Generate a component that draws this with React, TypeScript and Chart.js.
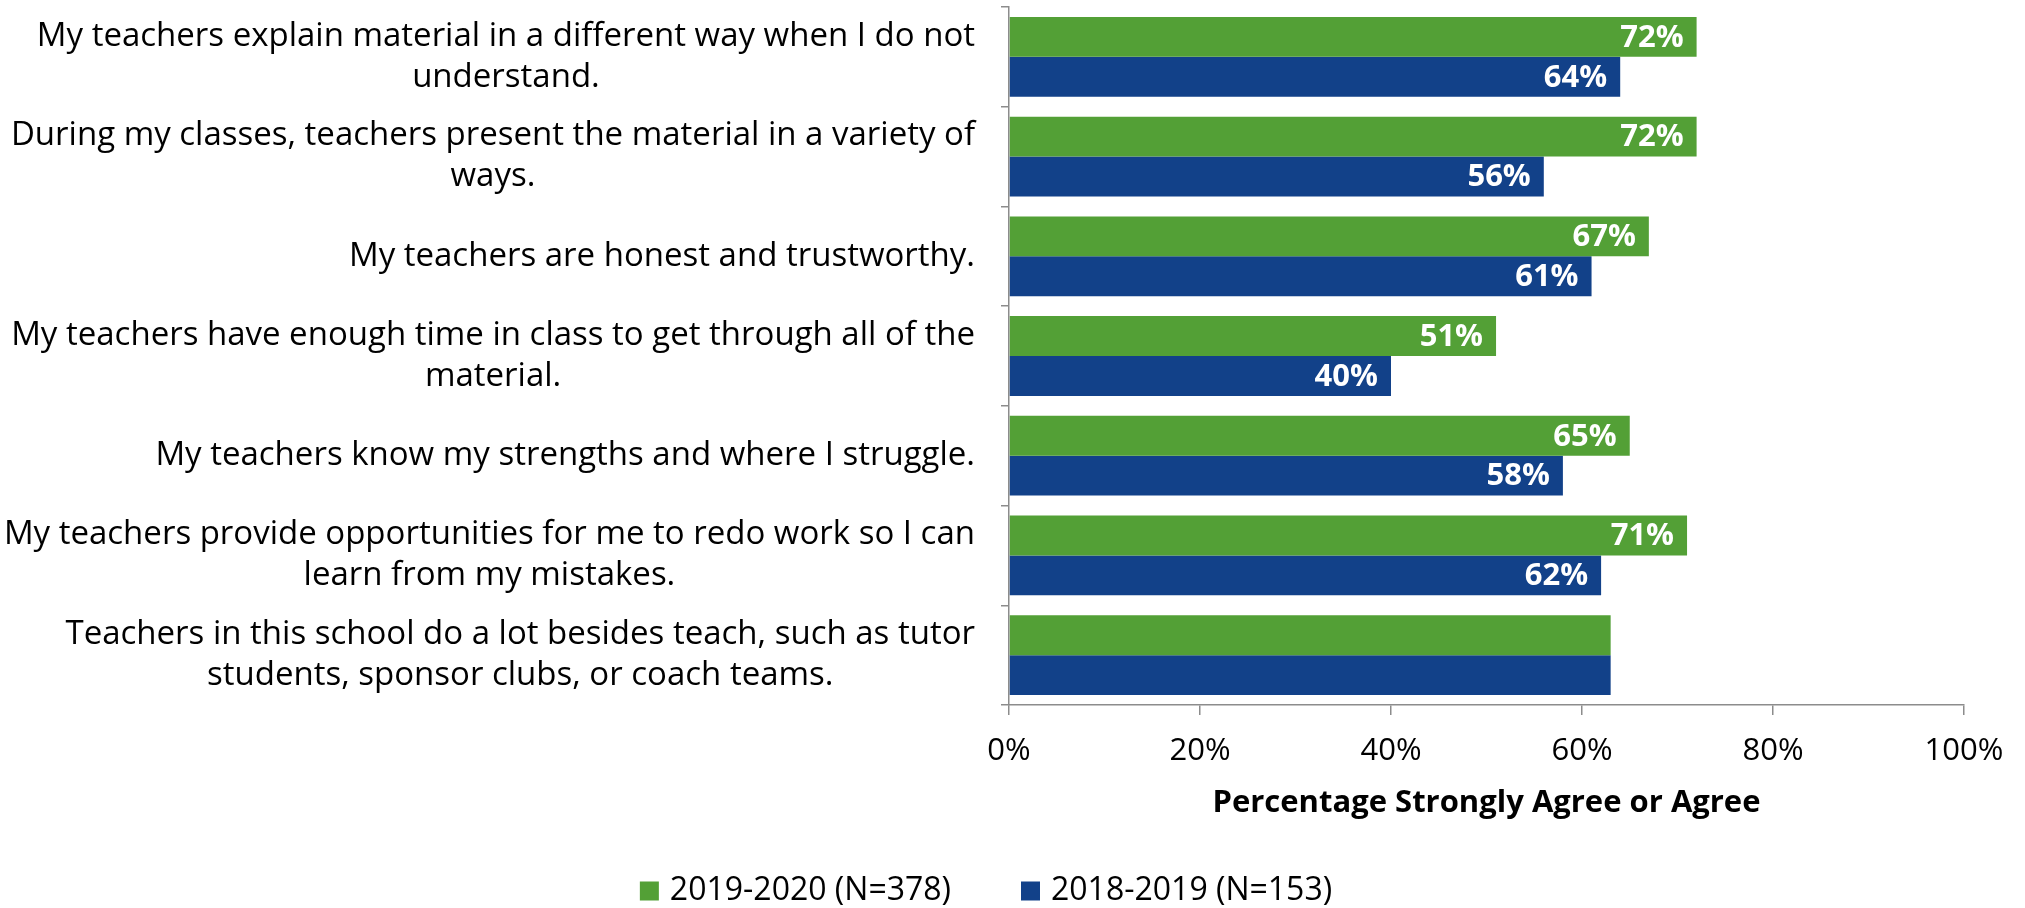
import React, { useEffect, useRef } from 'react';
import { Chart, registerables } from 'chart.js';

Chart.register(...registerables);

const categories: string[][] = [
  ['My teachers explain material in a different way when I do not', 'understand.'],
  ['During my classes, teachers present the material in a variety of', 'ways.'],
  ['My teachers are honest and trustworthy.'],
  ['My teachers have enough time in class to get through all of the', 'material.'],
  ['My teachers know my strengths and where I struggle.'],
  ['My teachers provide opportunities for me to redo work so I can', 'learn from my mistakes.'],
  ['Teachers in this school do a lot besides teach, such as tutor', 'students, sponsor clubs, or coach teams.'],
];

const series2020 = [72, 72, 67, 51, 65, 71, 63];
const series2019 = [64, 56, 61, 40, 58, 62, 63];
const labels2020 = ['72%', '72%', '67%', '51%', '65%', '71%', ''];
const labels2019 = ['64%', '56%', '61%', '40%', '58%', '62%', ''];
const xTickValues = [0, 20, 40, 60, 80, 100];
const legendNames = ['2019-2020 (N=378)', '2018-2019 (N=153)'];
const axisTitle = 'Percentage Strongly Agree or Agree';

const GREEN = '#53A036';
const BLUE = '#124189';
const AXIS = '#8C8C8C';
const FONT = "'Open Sans', Lato, sans-serif";
const FS = 31;
const FS_CAT = 33;
const FS_LEG = 32;

const dataLabels = [labels2020, labels2019];

const customPlugin = {
  id: 'customDraw',
  afterDatasetsDraw(chart: any) {
    const ctx = chart.ctx;
    ctx.save();
    ctx.fillStyle = '#FFFFFF';
    ctx.font = `bold ${FS}px ${FONT}`;
    ctx.textAlign = 'right';
    ctx.textBaseline = 'middle';
    chart.data.datasets.forEach((_ds: any, di: number) => {
      const meta = chart.getDatasetMeta(di);
      meta.data.forEach((bar: any, i: number) => {
        const t = dataLabels[di][i];
        if (!t) return;
        ctx.fillText(t, bar.x - 13, bar.y + 1);
      });
    });
    ctx.restore();
  },
  afterDraw(chart: any) {
    const ctx = chart.ctx;
    const yScale = chart.scales.y;
    const right = chart.chartArea.left - 34;
    const LH = 41;
    ctx.save();
    ctx.fillStyle = '#000000';
    ctx.font = `${FS_CAT}px ${FONT}`;
    ctx.textAlign = 'center';
    ctx.textBaseline = 'middle';
    categories.forEach((lines, i) => {
      const cy = yScale.getPixelForValue(i);
      const w = Math.max(...lines.map((l) => ctx.measureText(l).width));
      const cx = right - w / 2;
      lines.forEach((l, k) => {
        ctx.fillText(l, cx, cy + (k - (lines.length - 1) / 2) * LH);
      });
    });

    // legend
    ctx.font = `${FS_LEG}px ${FONT}`;
    const colors = [GREEN, BLUE];
    const box = 19;
    const gap = 11;
    const spacing = 70;
    const widths = legendNames.map((n) => ctx.measureText(n).width);
    const total =
      widths.reduce((a, b) => a + b, 0) + legendNames.length * (box + gap) + spacing * (legendNames.length - 1);
    let x = 986 - total / 2;
    const ly = 891;
    ctx.textAlign = 'left';
    legendNames.forEach((n, i) => {
      ctx.fillStyle = colors[i];
      ctx.fillRect(x, ly - box / 2, box, box);
      x += box + gap;
      ctx.fillStyle = '#000000';
      ctx.fillText(n, x, ly);
      x += widths[i] + spacing;
    });
    ctx.restore();
  },
};

export default function App() {
  const ref = useRef<HTMLCanvasElement | null>(null);

  useEffect(() => {
    if (!ref.current) return;
    const chart = new Chart(ref.current, {
      type: 'bar',
      data: {
        labels: categories.map((c) => c.join(' ')),
        datasets: [
          {
            label: legendNames[0],
            data: series2020,
            backgroundColor: GREEN,
            borderWidth: 0,
            barPercentage: 1,
            categoryPercentage: 0.8,
          },
          {
            label: legendNames[1],
            data: series2019,
            backgroundColor: BLUE,
            borderWidth: 0,
            barPercentage: 1,
            categoryPercentage: 0.8,
          },
        ],
      },
      options: {
        indexAxis: 'y',
        animation: false,
        responsive: false,
        devicePixelRatio: 1,
        layout: { padding: { left: 0, right: 61, top: 7, bottom: 86 } },
        plugins: {
          legend: { display: false },
          tooltip: { enabled: false },
        },
        scales: {
          x: {
            type: 'linear',
            min: 0,
            max: 100,
            afterBuildTicks: (scale: any) => {
              scale.ticks = xTickValues.map((v) => ({ value: v }));
            },
            afterFit: (scale: any) => {
              scale.height = 117;
            },
            ticks: {
              callback: (v: any) => `${v}%`,
              color: '#000000',
              font: { family: FONT, size: FS },
              padding: 18,
              maxRotation: 0,
            },
            grid: {
              drawOnChartArea: false,
              drawTicks: true,
              tickLength: 10,
              color: AXIS,
              lineWidth: 1.5,
            },
            border: { color: AXIS, width: 1.5 },
            title: {
              display: true,
              text: axisTitle,
              color: '#000000',
              font: { family: FONT, size: FS, weight: 'bold' },
              padding: { top: 0, bottom: 0 },
            },
          },
          y: {
            type: 'category',
            ticks: { display: false },
            grid: {
              offset: true,
              drawOnChartArea: false,
              drawTicks: true,
              tickLength: 8,
              color: AXIS,
              lineWidth: 1.5,
            },
            border: { color: AXIS, width: 1.5 },
            afterFit: (scale: any) => {
              scale.width = 1009;
            },
          },
        },
      } as any,
      plugins: [customPlugin],
    });
    return () => chart.destroy();
  }, []);

  return (
    <div style={{ position: 'absolute', left: 0, top: 0, width: 2025, height: 908, background: '#fff' }}>
      <canvas ref={ref} width={2025} height={908} style={{ display: 'block', width: 2025, height: 908 }} />
    </div>
  );
}
